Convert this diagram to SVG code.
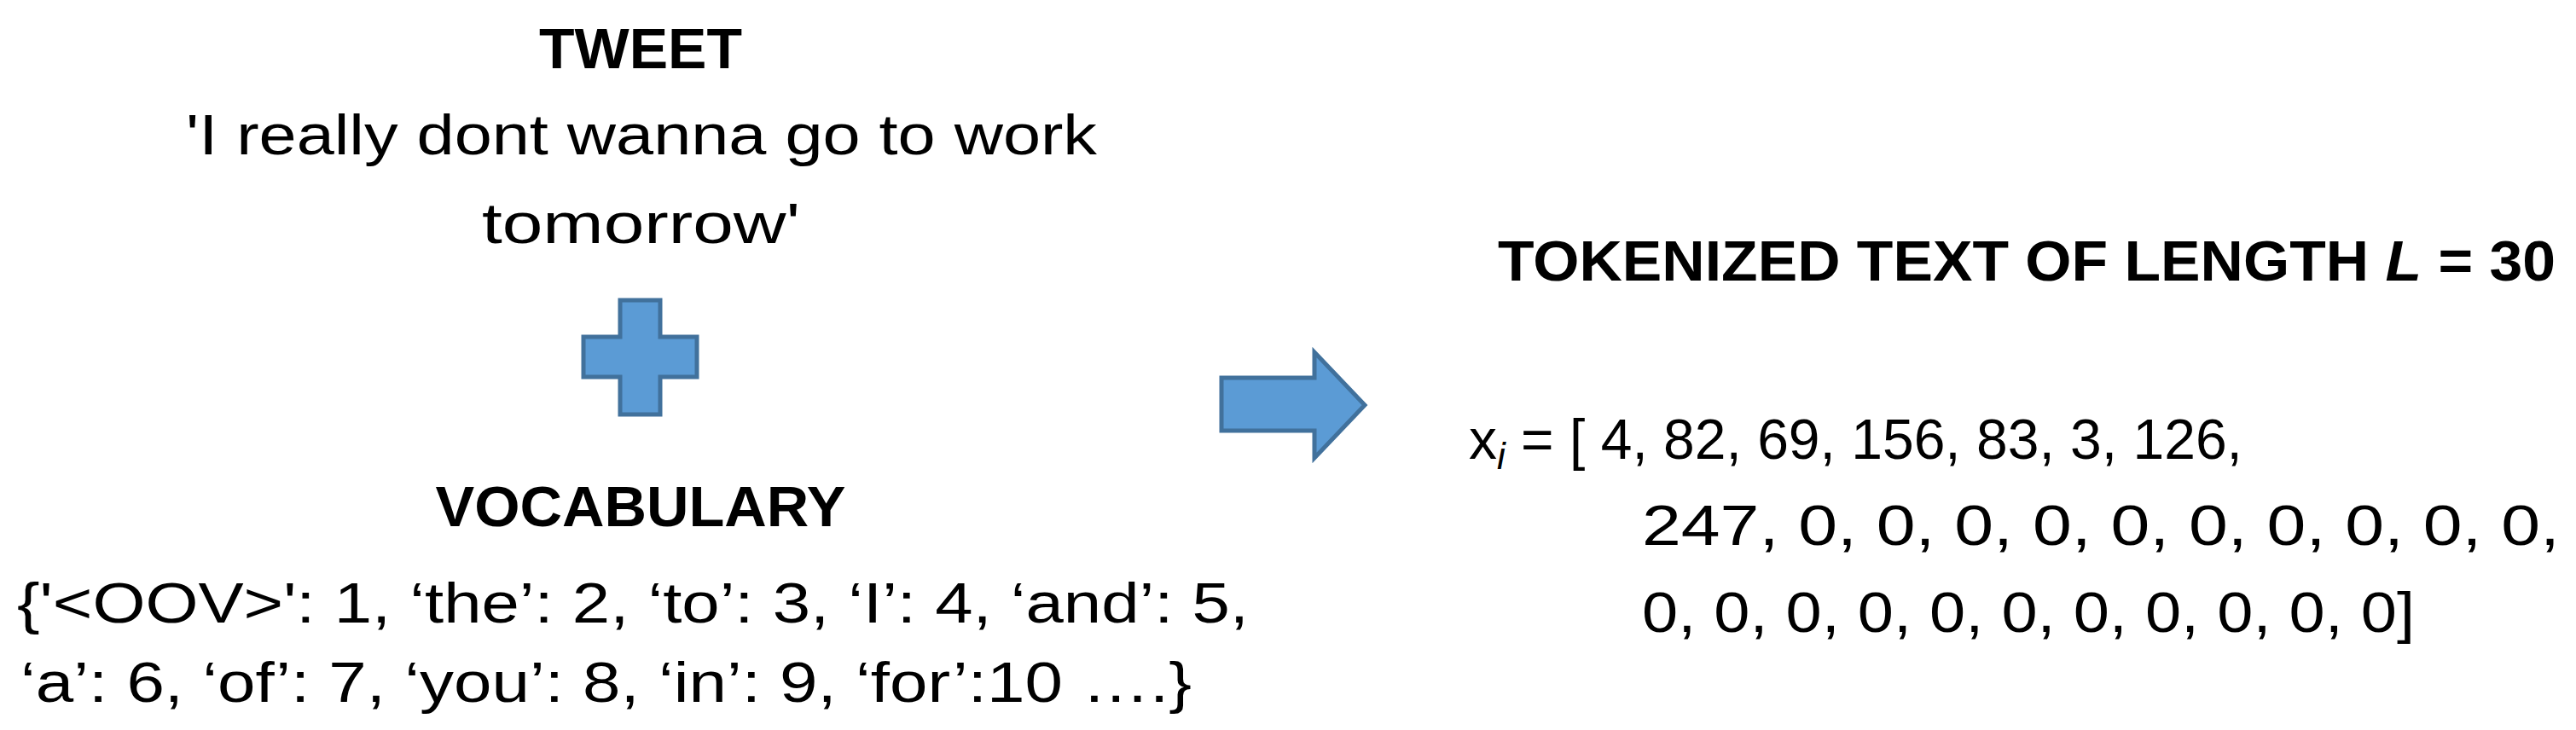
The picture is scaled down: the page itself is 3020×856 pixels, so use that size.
<svg xmlns="http://www.w3.org/2000/svg" width="3020" height="856" viewBox="0 0 3020 856">
<style>
text{font-family:"Liberation Sans",Arial,sans-serif;font-size:66px;fill:#000}
.b{font-weight:bold}
.shape{fill:#5B9BD5;stroke:#41719C;stroke-width:5}
</style>
<rect width="3020" height="856" fill="#fff"/>
<g id="tweet">
<text class="b" x="751" y="80" text-anchor="middle" textLength="238" lengthAdjust="spacingAndGlyphs">TWEET</text>
<text x="218" y="181" textLength="1068" lengthAdjust="spacingAndGlyphs">'I really dont wanna go to work</text>
<text x="565" y="285" textLength="373" lengthAdjust="spacingAndGlyphs">tomorrow'</text>
</g>
<g id="plus">
<path class="shape" d="M727,352 H774 V395 H817 V442 H774 V486 H727 V442 H684 V395 H727 Z"/>
</g>
<g id="vocabulary">
<text class="b" x="751" y="617" text-anchor="middle" textLength="481" lengthAdjust="spacingAndGlyphs">VOCABULARY</text>
<text x="20" y="730" textLength="1444" lengthAdjust="spacingAndGlyphs">{'&lt;OOV&gt;': 1, ‘the’: 2, ‘to’: 3, ‘I’: 4, ‘and’: 5,</text>
<text x="24" y="823" textLength="1373" lengthAdjust="spacingAndGlyphs">‘a’: 6, ‘of’: 7, ‘you’: 8, ‘in’: 9, ‘for’:10 ….}</text>
</g>
<g id="connectors">
<path class="shape" d="M1432,443 H1541 V413 L1600,475 L1541,537 V505 H1432 Z"/>
</g>
<g id="tokenized">
<text class="b" x="1756" y="329" textLength="1240" lengthAdjust="spacingAndGlyphs">TOKENIZED TEXT OF LENGTH <tspan font-style="italic">L</tspan> = 30</text>
<text x="1722" y="538">x<tspan font-style="italic" font-size="44" dy="12">i</tspan><tspan dy="-12"> = [ 4, 82, 69, 156, 83, 3, 126,</tspan></text>
<text x="1925" y="639" textLength="1076" lengthAdjust="spacingAndGlyphs">247, 0, 0, 0, 0, 0, 0, 0, 0, 0, 0,</text>
<text x="1925" y="741" textLength="906" lengthAdjust="spacingAndGlyphs">0, 0, 0, 0, 0, 0, 0, 0, 0, 0, 0]</text>
</g>
</svg>
